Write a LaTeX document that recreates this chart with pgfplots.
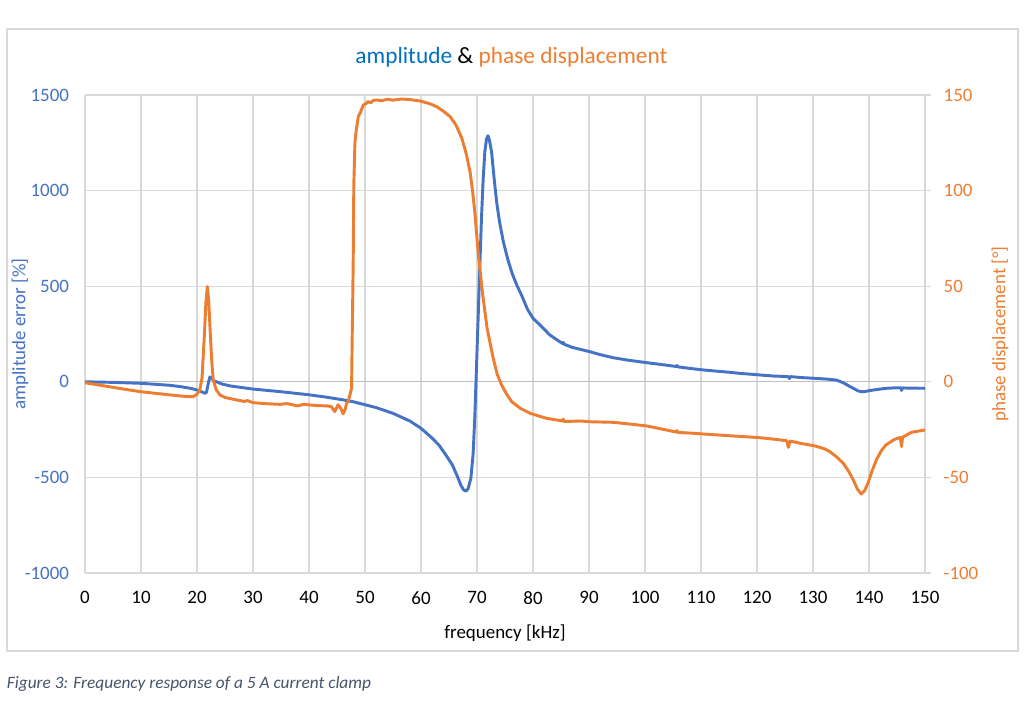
\documentclass[border=0pt]{standalone}
\usepackage{fontspec}
\setmainfont{Carlito}
\usepackage{pgfplots}
\pgfplotsset{compat=1.18}
\definecolor{cblue}{HTML}{4472C4}
\definecolor{tblue}{HTML}{0070C0}
\definecolor{corange}{HTML}{ED7D31}
\definecolor{cgrid}{HTML}{D9D9D9}
\definecolor{czero}{HTML}{BFBFBF}
\definecolor{ccap}{HTML}{44546A}
\newcommand{\tickfont}{\fontsize{14.2}{17}\selectfont}
\begin{document}
\begin{tikzpicture}
\path (0pt,0pt) rectangle (768pt,528.75pt);
\draw[cgrid, line width=0.9pt] (5.25pt,40.5pt) rectangle (763.5pt,507pt);
\node[font=\fontsize{17.5}{21}\selectfont] at (383.6pt,486pt)
  {\textcolor{tblue}{amplitude} \textcolor{black}{\&} \textcolor{corange}{phase displacement}};
\node[anchor=west, inner sep=0pt, text=ccap, font=\fontsize{13}{16}\selectfont\itshape] at (5pt,15.75pt)
  {Figure 3: Frequency response of a 5 A current clamp};

\begin{axis}[
  at={(63.75pt,99pt)}, anchor=south west,
  scale only axis, width=630pt, height=358.5pt,
  xmin=0, xmax=150, ymin=-1000, ymax=1500,
  xtick={0,10,...,150}, ytick={-1000,-500,...,1500},
  grid=major, major grid style={cgrid, line width=1pt},
  axis line style={draw=none}, tick style={draw=none},
  axis y line*=left, axis x line*=bottom,
  /pgf/number format/assume math mode=true,
  /pgf/number format/1000 sep={},
  ticklabel style={font=\tickfont},
  yticklabel style={text=cblue, xshift=-8.5pt},
  xticklabel style={text=black, yshift=-10.5pt},
  xlabel={frequency [kHz]},
  ylabel={amplitude error [\%]},
  every axis x label/.style={at={(axis description cs:0.5,0)}, anchor=center, yshift=-45pt, font=\tickfont},
  every axis y label/.style={at={(axis description cs:-0.0774,0.5)}, anchor=center, rotate=90, text=cblue, font=\tickfont},
  clip=false,
]
\draw[czero, line width=1pt] (axis cs:0,0) -- (axis cs:150,0);
\addplot[cblue, line width=2.2pt, line join=round] coordinates {
(0,0) (5,-3) (10,-8) (15,-18) (17,-25) (19,-35) (20,-43) (20.8,-52) (21.4,-60) (21.7,-55) (22.0,-10) (22.3,25) (22.6,20) (23.0,5) (23.5,0) (24.5,-12) (26,-22) (28,-30) (30,-38) (35,-52) (40,-68) (43,-80) (46,-94) (48,-105) (50,-120) (52,-135) (55,-165) (58,-205) (60,-243) (62,-295) (63.2,-331) (64.5,-385) (65.6,-435) (66.5,-495) (67.1,-540) (67.6,-565) (68.0,-572) (68.4,-560) (68.9,-505) (69.3,-380) (69.6,-190) (69.9,70) (70.2,332) (70.5,600) (70.8,855) (71.1,1060) (71.4,1204) (71.7,1270) (71.96,1287) (72.2,1265) (72.6,1204) (73.0,1080) (73.5,942) (74.0,840) (74.7,733) (75.5,640) (76.3,565) (77.1,506) (78,450) (79,380) (80,332) (81.5,290) (83,245) (84.5,215) (85.3,200) (85.4,206) (85.6,196) (87,180) (88.4,170) (90.2,157) (92,142) (94.3,126) (97,113) (100.3,100) (103,90) (105.6,80) (105.7,85) (105.9,78) (108,70) (110.4,62) (113,55) (115,50) (117,44) (120.4,36) (123,30) (125.6,27) (125.8,17) (126.0,27) (128,22) (130.4,18) (132.5,14) (134.2,9) (135.4,-5) (136.3,-20) (137.2,-34) (138,-47) (138.6,-52) (139.3,-51) (140.1,-46) (141.5,-40) (143.1,-34) (144.5,-32) (145.7,-31) (145.8,-45) (146.0,-32) (147,-33) (150,-34)
};
\end{axis}

\begin{axis}[
  at={(63.75pt,99pt)}, anchor=south west,
  scale only axis, width=630pt, height=358.5pt,
  xmin=0, xmax=150, ymin=-100, ymax=150,
  ytick={-100,-50,...,150},
  axis y line*=right, axis x line=none,
  axis line style={draw=none},
  tick style={cgrid, line width=1pt}, major tick length=4.5pt, tick align=outside,
  /pgf/number format/assume math mode=true,
  ticklabel style={font=\tickfont},
  yticklabel style={text=corange, xshift=6pt},
  ylabel={phase displacement [°]},
  every axis y label/.style={at={(axis description cs:1.0893,0.5)}, anchor=center, rotate=90, text=corange, font=\tickfont},
  clip=false,
]
\addplot[corange, line width=2.2pt, line join=round] coordinates {
(0,-0.5) (2.5,-1.7) (5,-2.9) (7.5,-4.1) (10,-5.2) (12.5,-6) (15,-6.8) (17,-7.4) (18.5,-7.8) (19.3,-7.8) (20.0,-6.5) (20.5,-4.3) (20.9,2) (21.3,23.6) (21.6,42) (21.85,49.8) (22.1,42) (22.4,23.6) (22.65,10) (22.9,1) (23.4,-4) (24.1,-6.9) (25,-8.2) (27.1,-9.5) (28.5,-10.3) (29,-9.8) (30,-10.9) (32,-11.4) (34.8,-11.8) (36,-11.4) (37,-12.0) (38,-12.6) (39,-11.8) (40,-12.1) (42,-12.5) (43.2,-12.6) (44,-13) (44.6,-15.6) (45.2,-12) (45.7,-14) (46.1,-16.8) (46.5,-14) (46.7,-11.3) (47.0,-10.4) (47.3,-6.9) (47.6,-3.4) (47.7,20) (47.8,41.9) (47.9,64.6) (48.0,102.9) (48.2,125) (48.4,130.8) (48.8,138.7) (49.2,141) (49.7,144.8) (50.2,145.5) (50.6,146.6) (51.0,145.9) (51.5,147.2) (52.1,147.4) (53,147.0) (54,147.8) (55,147.3) (56.5,147.9) (58,147.6) (59.8,146.9) (61.5,145.5) (62.8,143.9) (64,141.5) (65.2,138.7) (66.3,134) (67.3,127.3) (68.1,119) (68.75,109.9) (69.2,100) (69.6,89) (70.2,68) (70.95,47.1) (71.8,28) (72.9,12.3) (73.6,4) (74.4,-1.7) (75.3,-6.5) (76.2,-10.4) (77.8,-14) (79.5,-16.5) (82.4,-19.1) (85.3,-20.5) (85.4,-19.5) (85.6,-20.8) (88.4,-20.5) (90.2,-20.9) (94.3,-21.2) (97,-22) (100.3,-23.1) (103,-24.7) (105.6,-26.3) (105.7,-25.5) (105.9,-26.5) (108,-26.8) (110.4,-27.3) (115,-28.2) (120.4,-29.2) (123,-30) (125.3,-30.8) (125.6,-34.3) (125.9,-31) (128,-32.3) (130.4,-33.6) (132,-35) (133,-36.5) (134.3,-39.5) (135.4,-42.6) (136.4,-47) (137.2,-51.4) (137.9,-56) (138.6,-58.7) (139.2,-57) (139.8,-53.1) (140.5,-47) (141.3,-40.9) (142.2,-36) (143,-33.1) (144.5,-30.2) (145.6,-29.1) (145.8,-33.9) (146.0,-29) (147.6,-26.4) (150,-25.2)
};
\end{axis}
\end{tikzpicture}
\end{document}
